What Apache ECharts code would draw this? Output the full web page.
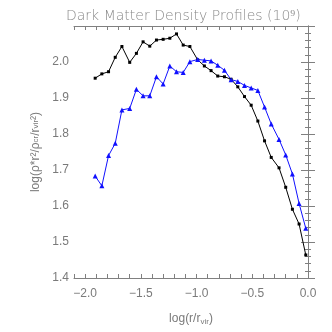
<!DOCTYPE html>
<html lang="en">
<head>
    <meta charset="UTF-8">
    <title>Dark Matter Density Profiles</title>
    <script src="https://cdn.jsdelivr.net/npm/echarts@6/dist/echarts.min.js"></script>
    <style>html, body { margin: 0; padding: 0; background: #fff; }</style>
</head>
<body>
    <div id="chart" style="width:332px;height:332px;"></div>

    <script>
        // radial bins, log(r/r_vir)
        var logR = [-1.91, -1.85, -1.79, -1.73, -1.67, -1.60, -1.54, -1.48, -1.42, -1.36, -1.30,
                    -1.24, -1.18, -1.12, -1.06, -0.99, -0.93, -0.87, -0.81, -0.75, -0.69, -0.63,
                    -0.57, -0.51, -0.45, -0.39, -0.33, -0.26, -0.20, -0.14, -0.08, -0.02];
        // black profile (squares)
        var profileBlack = [1.955, 1.967, 1.973, 2.013, 2.043, 1.999, 2.024, 2.056, 2.044, 2.061, 2.063,
                            2.066, 2.078, 2.047, 2.043, 2.006, 1.989, 1.976, 1.961, 1.959, 1.952, 1.931,
                            1.904, 1.880, 1.836, 1.781, 1.735, 1.706, 1.652, 1.591, 1.550, 1.464];
        // blue profile (triangles)
        var profileBlue = [1.683, 1.656, 1.740, 1.774, 1.867, 1.871, 1.924, 1.906, 1.906, 1.959, 1.939,
                           1.989, 1.973, 1.971, 2.001, 2.007, 2.005, 2.003, 1.991, 1.977, 1.951, 1.946,
                           1.935, 1.928, 1.921, 1.875, 1.828, 1.785, 1.742, 1.689, 1.607, 1.538];
        var xTickLabels = [-2.0, -1.5, -1.0, -0.5, 0.0];

        var gray = '#808080';

        function pairs(ys) {
            return logR.map(function (x, i) { return [x, ys[i]]; });
        }

        function isXLabel(v) {
            return xTickLabels.some(function (t) { return Math.abs(t - v) < 1e-6; });
        }

        var xBase = {
            type: 'value', min: -2.1, max: 0, interval: 0.1,
            axisLine: { show: true, lineStyle: { color: gray } },
            axisTick: { show: true, inside: true, length: 4, lineStyle: { color: gray } },
            splitLine: { show: false }
        };
        var yBase = {
            type: 'value', min: 1.4, max: 2.1, interval: 0.1,
            axisLine: { show: true, lineStyle: { color: gray } },
            axisTick: { show: true, inside: true, length: 7, lineStyle: { color: gray } },
            minorTick: { show: true, splitNumber: 5, length: 3, lineStyle: { color: gray } },
            splitLine: { show: false }
        };

        var chart = echarts.init(document.getElementById('chart'));
        var option = {
            animation: false,
            title: {
                text: 'Dark Matter Density Profiles (10⁹)',
                left: 61, top: 4,
                textStyle: { fontFamily: 'DejaVu Sans', fontWeight: 200, fontSize: 14, color: '#8a8a8a' }
            },
            grid: { left: 74, right: 24, top: 26, bottom: 54 },
            xAxis: [
                Object.assign({}, xBase, {
                    position: 'bottom',
                    name: 'log(r/r{s|vir})',
                    nameLocation: 'middle',
                    nameGap: 34,
                    nameTextStyle: {
                        fontFamily: 'Liberation Sans', fontSize: 12, color: '#7a7a7a',
                        rich: { s: { fontSize: 8, verticalAlign: 'bottom', padding: [6, 0, 0, 0], color: '#7a7a7a' } }
                    },
                    axisLabel: {
                        interval: 0, margin: 10,
                        fontFamily: 'Liberation Sans', fontSize: 12, color: '#7a7a7a',
                        formatter: function (v) {
                            return isXLabel(v) ? v.toFixed(1).replace('-', '−') : '';
                        }
                    }
                }),
                Object.assign({}, xBase, { position: 'top', axisLabel: { show: false } })
            ],
            yAxis: [
                Object.assign({}, yBase, {
                    position: 'left',
                    name: 'log(ρ*r²/ρ{s|cr}/r{s|vir}²)',
                    nameLocation: 'middle',
                    nameGap: 24,
                    nameTextStyle: {
                        fontFamily: 'Liberation Sans', fontSize: 12, color: '#7a7a7a',
                        rich: { s: { fontSize: 8, color: '#7a7a7a' } }
                    },
                    axisLabel: {
                        margin: 5,
                        fontFamily: 'Liberation Sans', fontSize: 12, color: '#7a7a7a',
                        formatter: function (v) { return v > 2.05 ? '' : v.toFixed(1); }
                    }
                }),
                Object.assign({}, yBase, { position: 'right', axisLabel: { show: false } })
            ],
            series: [
                {
                    type: 'line', data: pairs(profileBlack),
                    symbol: 'rect', symbolSize: 3,
                    lineStyle: { color: '#000', width: 1 },
                    itemStyle: { color: '#000' }
                },
                {
                    type: 'line', data: pairs(profileBlue),
                    symbol: 'triangle', symbolSize: 5,
                    lineStyle: { color: '#1010ff', width: 1 },
                    itemStyle: { color: '#1010ff' }
                }
            ]
        };
        chart.setOption(option);
    </script>
</body>
</html>
